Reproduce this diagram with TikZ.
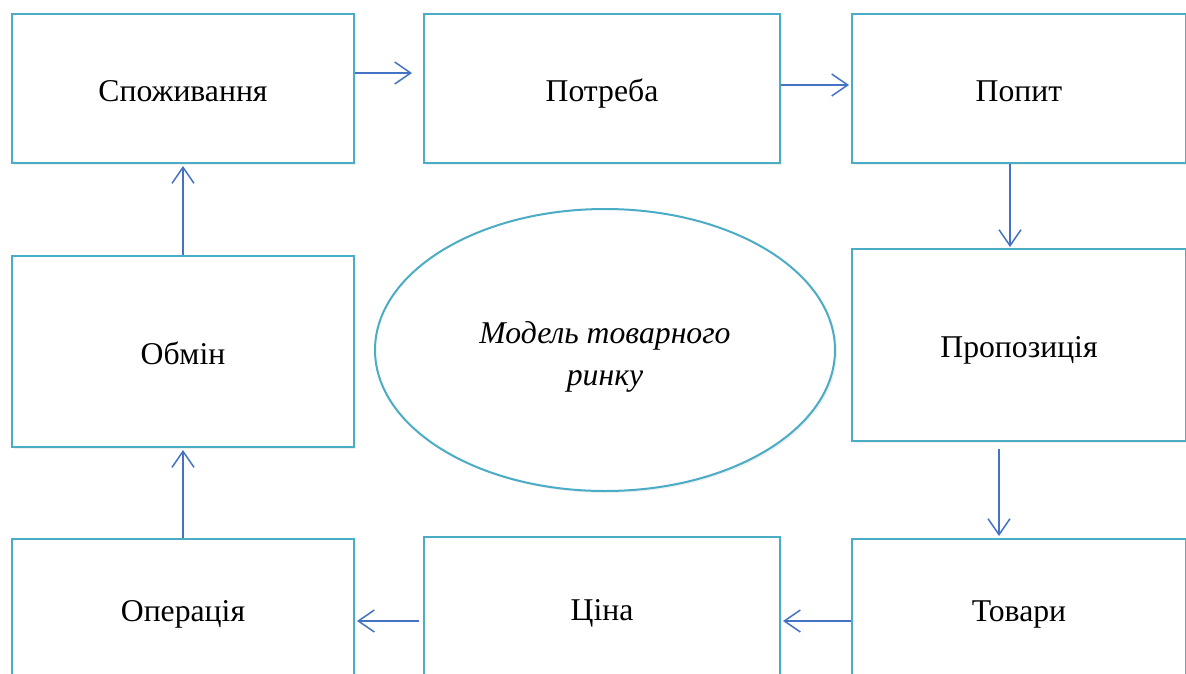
\documentclass[tikz,border=0pt]{standalone}
\usepackage{fontspec}
\setmainfont{Liberation Serif}
\usepackage{tikz}
\usetikzlibrary{arrows.meta,shapes.geometric,shadows}
\definecolor{boxline}{HTML}{4BACC6}
\definecolor{arrowline}{HTML}{4472C4}

\tikzset{
  stage/.style={draw=boxline, line width=2pt, fill=white, inner sep=0pt,
    drop shadow={opacity=0.12, shadow xshift=2pt, shadow yshift=-2pt},
    text height=25pt, text depth=0pt,
    font=\fontsize{31.7}{38}\selectfont},
  flow/.style={draw=arrowline, line width=1.5pt,
    -{Straight Barb[length=16pt,width=22pt,line width=1.5pt]}}
}

\begin{document}
\begin{tikzpicture}[x=1pt, y=-1pt]
  \useasboundingbox (0,0) rectangle (1186,673);
  \clip (0,0) rectangle (1186,673);
  \fill[white] (0,0) rectangle (1186,673);
  % top row
  \node[stage, minimum width=342pt, minimum height=149pt] (spoz) at (183,88.5) {Споживання};
  \node[stage, minimum width=356pt, minimum height=149pt] (potr) at (602,88.5) {Потреба};
  \node[stage, minimum width=334pt, minimum height=149pt] (popyt) at (1019,88.5) {Попит};
  % middle row
  \node[stage, minimum width=342pt, minimum height=191pt] (obmin) at (183,351.5) {Обмін};
  \node[stage, minimum width=334pt, minimum height=192pt] (propoz) at (1019,345) {Пропозиція};
  \node[stage, ellipse, minimum width=460pt, minimum height=282pt,
    label={[align=center, yshift=-7pt, font=\fontsize{31.7}{42}\selectfont\itshape]center:Модель товарного\\ринку}]
    (model) at (605,350) {};
  % bottom row
  \node[stage, minimum width=342pt, minimum height=140pt] (oper) at (183,609) {Операція};
  \node[stage, minimum width=356pt, minimum height=142pt] (tsina) at (602,608) {Ціна};
  \node[stage, minimum width=334pt, minimum height=140pt] (tovary) at (1019,609) {Товари};
  % connectors
  \draw[flow, shorten >=11pt] ([yshift=15.5pt]spoz.east) -- ([yshift=15.5pt]potr.west);
  \draw[flow, shorten >=2pt] ([yshift=3.5pt]potr.east) -- ([yshift=3.5pt]popyt.west);
  \draw[flow, shorten >=1pt] ([xshift=-9pt]popyt.south) -- ([xshift=-9pt]popyt.south |- propoz.north);
  \draw[flow, shorten <=7pt, shorten >=2pt] ([xshift=-20pt]propoz.south) -- ([xshift=-20pt]propoz.south |- tovary.north);
  \draw[flow, shorten >=2pt] ([yshift=-12pt]tovary.west) -- ([yshift=-12pt]tovary.west -| tsina.east);
  \draw[flow, shorten <=4pt, shorten >=2pt] ([yshift=-13pt]tsina.west) -- ([yshift=-13pt]tsina.west -| oper.east);
  \draw[flow, shorten >=2pt] (oper.north) -- (obmin.south);
  \draw[flow, shorten >=2pt] (obmin.north) -- (spoz.south);
\end{tikzpicture}
\end{document}
